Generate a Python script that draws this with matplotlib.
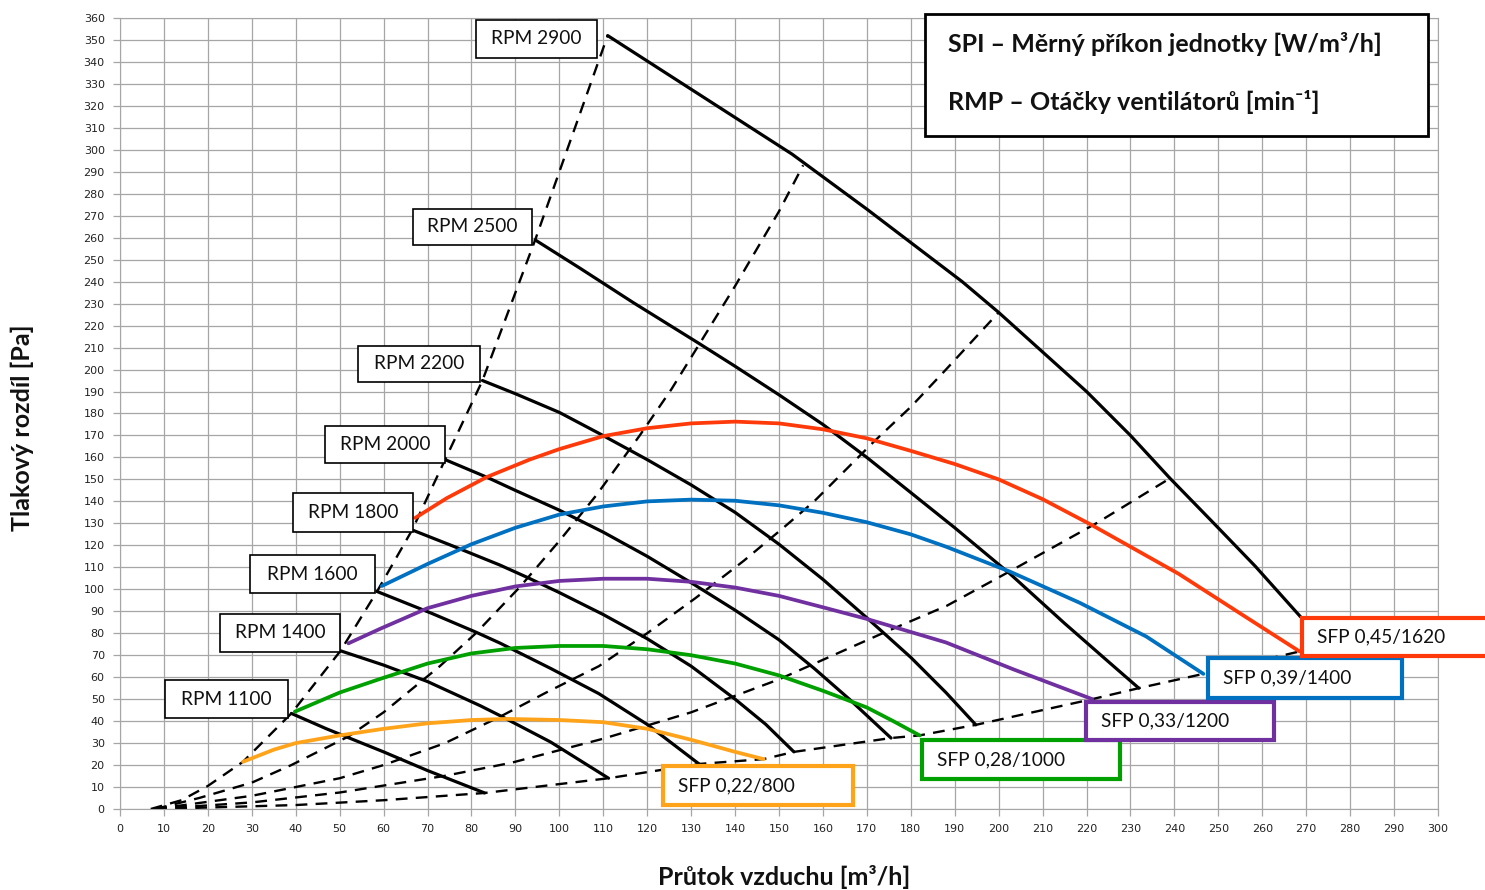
import matplotlib
matplotlib.use("Agg")
import matplotlib.pyplot as plt
from matplotlib.patches import Rectangle

# fan curves - black, flow [m3/h] vs pressure [Pa]
rpm1100_q = [39, 47, 60, 70, 83]
rpm1100_p = [43.5, 36.5, 26, 17.5, 7.3]
rpm1400_q = [50.2, 60, 70, 82, 86.5, 98, 111.2]
rpm1400_p = [72, 65.5, 58, 47, 42.5, 30.5, 14]
rpm1600_q = [58.5, 71, 81, 86.5, 98, 109, 120, 131.8]
rpm1600_p = [99, 89, 80.5, 75.5, 64, 52.5, 38.5, 20.5]
rpm1800_q = [66.5, 76, 86.5, 92.6, 100, 110, 120, 130, 140, 147, 153.4]
rpm1800_p = [127, 119.5, 111, 105.5, 98.5, 88.5, 77.5, 65, 50, 38.5, 26]
rpm2000_q = [74, 83.5, 90, 100, 110, 120, 130, 140, 150, 158, 166, 175.5]
rpm2000_p = [159, 151, 145, 136, 126, 115, 103, 90.5, 77, 64, 50, 32.3]
rpm2200_q = [82.5, 90, 100, 109, 120, 130, 140, 150, 160, 170, 180, 188, 194.8]
rpm2200_p = [195, 189, 180.5, 171, 159, 147.5, 135, 120.5, 104.5, 87, 69, 53, 38.3]
rpm2500_q = [94.5, 104.8, 116.8, 131.7, 140, 150, 160, 170, 180, 190, 202.6, 215, 225, 231.9]
rpm2500_p = [259, 246, 230.5, 212, 201.5, 188.5, 175, 160, 144, 128, 107, 84.5, 67, 55]
rpm2900_q = [111, 132, 153, 170, 191.7, 200, 210, 220, 230, 239, 248.5, 258.4, 268.7]
rpm2900_p = [352, 325, 298, 273, 240, 226, 208, 190, 170, 150.5, 131, 110.5, 87.5]

rpm_labels = ["RPM 1100", "RPM 1400", "RPM 1600", "RPM 1800",
              "RPM 2000", "RPM 2200", "RPM 2500", "RPM 2900"]

# system curves - dashed
sys1_q = [7, 14, 20, 28, 39, 50.2, 58.5, 66.5, 74, 82.5, 94.5, 111]
sys1_p = [0, 4, 10.5, 21.5, 43.5, 72, 99, 127, 159, 195, 259, 352]
sys2_q = [8, 18, 30, 39, 52, 60, 72.8, 81, 91, 100, 108.5, 118.3, 125.5, 132, 140, 150, 155.5]
sys2_p = [0, 5, 12, 20, 33, 44, 65, 80, 101, 122, 143, 170, 191, 212, 238, 272, 293]
sys3_q = [8, 30, 50, 60, 74, 86.5, 97, 109, 120, 131, 142, 151, 158, 165, 171.5, 180, 188, 200]
sys3_p = [0, 6, 14, 20, 30, 42, 53, 65, 80, 96, 113, 128, 140, 154, 167, 183, 200, 226]
sys4_q = [8, 30, 50, 73.7, 89, 110, 130, 150, 174.5, 188.2, 203.3, 222.2, 239]
sys4_p = [0, 3, 7.5, 15, 21, 32, 44, 59, 80.8, 92.5, 109, 130, 150.5]
sys5_q = [8, 40, 60, 83, 111.2, 131.8, 146.5, 153.4, 175.5, 182, 194.8, 221.3, 231.9, 246.6, 268.5]
sys5_p = [0, 1.8, 4, 7.3, 14, 20.5, 22.7, 26, 32.3, 33.5, 38.3, 50, 55, 61.5, 71.7]

# SFP curves - coloured
sfp800_q = [28, 35, 40, 50, 60, 70, 80, 88, 100, 110, 120, 130, 140, 146.5]
sfp800_p = [21.5, 27, 30, 33.5, 36.5, 39, 40.5, 41, 40.5, 39.5, 36.5, 31.5, 26, 22.7]
sfp1000_q = [39.8, 50, 59.2, 70, 80, 90, 100, 110, 120, 130, 140, 150, 160, 170, 176, 182]
sfp1000_p = [44.3, 53, 59.2, 66.2, 70.8, 73.3, 74.2, 74.2, 72.7, 70, 66.2, 60.8, 53.8, 46.2, 40, 33.5]
sfp1200_q = [52, 59.2, 70, 80, 90, 100, 110, 120, 130, 140, 150, 160, 170, 188, 203.3, 221.3]
sfp1200_p = [75.4, 82, 91.4, 97, 101.3, 103.8, 104.8, 104.8, 103.4, 100.8, 97, 91.8, 86.5, 75.8, 63.6, 50]
sfp1400_q = [59.6, 70, 80, 90, 100, 110, 120, 130, 140, 150, 160, 170, 180, 188, 202.6, 218.5, 233.6, 246.6]
sfp1400_p = [101.5, 111.5, 120.5, 128, 134, 137.7, 140, 140.8, 140.3, 138.2, 134.8, 130.5, 125, 119.4, 108, 93.8, 78.5, 61.5]
sfp1620_q = [67.2, 74.4, 83.4, 93.2, 100, 110, 120, 130, 140, 150, 160, 170, 180, 190, 200, 210, 221.4, 241, 256, 268.5]
sfp1620_p = [132.5, 141.5, 151, 159, 163.8, 169.7, 173.3, 175.5, 176.3, 175.5, 172.8, 168.7, 163, 157, 150, 141, 129, 107, 87.7, 71.7]

sfp_labels = ["SFP 0,22/800", "SFP 0,28/1000", "SFP 0,33/1200", "SFP 0,39/1400", "SFP 0,45/1620"]
sfp_colors = ["#ffa31a", "#00a000", "#7030a0", "#0070c0", "#ff3a0a"]

fig = plt.figure(figsize=(14.85, 8.9), dpi=100)
ax = fig.add_axes([120 / 1485, 81 / 890, 1318 / 1485, 791 / 890])
ax.set_xlim(0, 300)
ax.set_ylim(0, 360)
ax.set_xticks(range(0, 301, 10))
ax.set_yticks(range(0, 361, 10))
ax.grid(color="#a6a6a6", lw=0.9)
ax.set_axisbelow(True)
for s in ax.spines.values():
    s.set_color("#a6a6a6")
ax.tick_params(colors="#a6a6a6", labelcolor="#222222", labelsize=8, length=5, width=0.9)
ax.tick_params(axis="y", pad=6)
ax.tick_params(axis="x", pad=6)

# dashed system curves
for q, p in [(sys1_q, sys1_p), (sys2_q, sys2_p), (sys3_q, sys3_p), (sys4_q, sys4_p), (sys5_q, sys5_p)]:
    ax.plot(q, p, color="black", lw=1.7, dashes=(5, 3.5), zorder=2)

# fan curves
rpm_q = [rpm1100_q, rpm1400_q, rpm1600_q, rpm1800_q, rpm2000_q, rpm2200_q, rpm2500_q, rpm2900_q]
rpm_p = [rpm1100_p, rpm1400_p, rpm1600_p, rpm1800_p, rpm2000_p, rpm2200_p, rpm2500_p, rpm2900_p]
for q, p in zip(rpm_q, rpm_p):
    ax.plot(q, p, color="black", lw=2.3, zorder=3, solid_capstyle="round", solid_joinstyle="round")

sfp_q = [sfp800_q, sfp1000_q, sfp1200_q, sfp1400_q, sfp1620_q]
sfp_p = [sfp800_p, sfp1000_p, sfp1200_p, sfp1400_p, sfp1620_p]
for q, p, c in zip(sfp_q, sfp_p, sfp_colors):
    ax.plot(q, p, color=c, lw=2.7, zorder=4, solid_capstyle="round", solid_joinstyle="round")

FONT = ["Lato", "DejaVu Sans"]

# RPM label boxes (x0, x1, y0, y1 in data units)
rpm_boxes = [(10.2, 38.2, 41.4, 58.7), (22.8, 50.1, 71.5, 88.8), (29.6, 58.0, 98.3, 115.6),
             (39.4, 66.7, 126.1, 143.8), (46.7, 74.0, 157.5, 174.3), (54.2, 81.9, 194.4, 210.7),
             (66.7, 93.8, 256.7, 273.1), (81.0, 108.6, 341.8, 359.1)]
for lab, (x0, x1, y0, y1) in zip(rpm_labels, rpm_boxes):
    ax.add_patch(Rectangle((x0, y0), x1 - x0, y1 - y0, facecolor="white",
                           edgecolor="black", lw=1.2, zorder=6, clip_on=False))
    ax.text((x0 + x1) / 2, (y0 + y1) / 2, lab, ha="center", va="center",
            fontsize=13.8, family=FONT, color="#111111", zorder=7)

# SFP label boxes
sfp_boxes = [(123.6, 166.9, 1.8, 19.6), (182.6, 227.6, 13.7, 31.4), (219.9, 262.7, 31.4, 48.7),
             (247.7, 291.8, 50.5, 68.7), (269.1, 312.0, 69.6, 86.9)]
for lab, c, (x0, x1, y0, y1) in zip(sfp_labels, sfp_colors, sfp_boxes):
    ax.add_patch(Rectangle((x0, y0), x1 - x0, y1 - y0, facecolor="white",
                           edgecolor=c, lw=3, zorder=6, clip_on=False))
    ax.text(x0 + 3.4, (y0 + y1) / 2, lab, ha="left", va="center",
            fontsize=13.8, family=FONT, color="#111111", zorder=7, clip_on=False)

# info box
ax.add_patch(Rectangle((183.2, 306.3), 114.5, 55.6, facecolor="white",
                       edgecolor="black", lw=2, zorder=6, clip_on=False))
ax.text(188.5, 348.2, "SPI – Měrný příkon jednotky [W/m³/h]", ha="left", va="center",
        fontsize=18, fontweight="bold", family=FONT, color="#111111", zorder=7)
ax.text(188.5, 321.8, "RMP – Otáčky ventilátorů [min⁻¹]", ha="left", va="center",
        fontsize=18, fontweight="bold", family=FONT, color="#111111", zorder=7)

fig.text(784 / 1485, 1 - 877 / 890, "Průtok vzduchu [m³/h]", ha="center", va="center",
         fontsize=18, fontweight="bold", family=FONT, color="#111111")
fig.text(22 / 1485, 1 - 428 / 890, "Tlakový rozdíl [Pa]", ha="center", va="center",
         rotation=90, fontsize=18, fontweight="bold", family=FONT, color="#111111")

fig.savefig("out.png", dpi=100, facecolor="white")
